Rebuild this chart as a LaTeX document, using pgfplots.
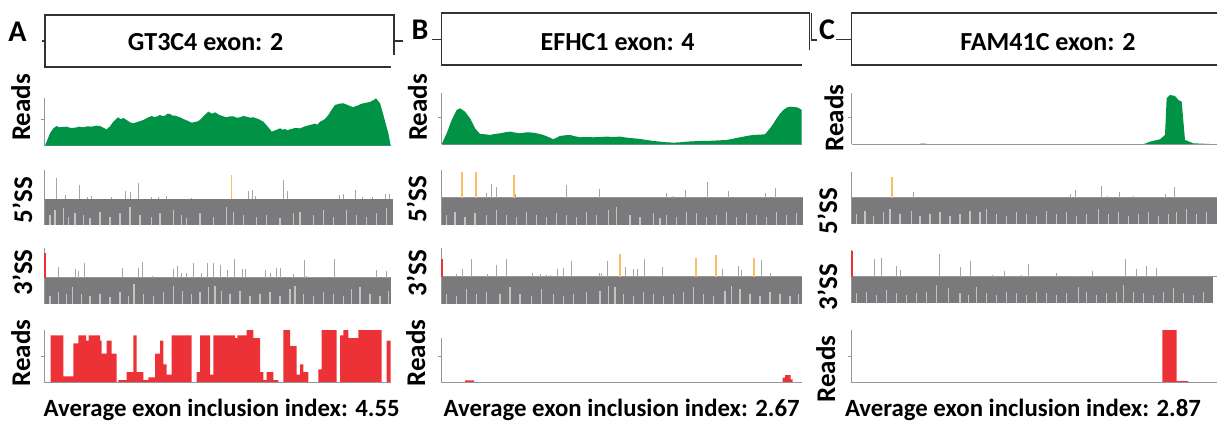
\documentclass[border=0pt]{standalone}
\usepackage{pgfplots}
\pgfplotsset{compat=1.18}
\usepackage{fontspec}
\setmainfont{Carlito}
\definecolor{grn}{RGB}{0,146,69}
\definecolor{rd}{RGB}{237,50,55}
\definecolor{bandgray}{RGB}{122,122,125}
\definecolor{spk}{RGB}{165,165,165}
\definecolor{org}{RGB}{250,190,100}
\definecolor{streak}{RGB}{195,195,195}
\definecolor{axgray}{RGB}{150,150,150}
\definecolor{boxc}{RGB}{50,50,50}
\pgfplotsset{
  base/.style={scale only axis, anchor=north west, clip=false},
  reads/.style={base, axis lines=left, axis line style={draw=axgray, line width=0.5pt, -},
    xtick=\empty, ytick={80}, yticklabels={}, tick align=outside, major tick length=2pt,
    tick style={axgray, line width=0.4pt}, ymin=0},
  ss/.style={base, axis x line=middle, axis y line=left, axis line style={draw=axgray, line width=0.5pt, -},
    xtick=\empty, ytick=\empty},
  spike/.style={ycomb, draw=spk, line width=0.5pt, mark=none},
  ospike/.style={ycomb, draw=org, line width=0.8pt, mark=none},
  rspike/.style={ycomb, draw=rd, line width=0.9pt, mark=none},
  strk/.style={quiver={u=0,v=\thisrow{v}}, -, draw=streak, line width=0.6pt},
}
\begin{document}
\begin{tikzpicture}
\useasboundingbox (0,0) rectangle (608.5pt,-211.5pt);
% ---------- boxes and letters
\begin{scope}[line width=0.7pt, draw=boxc]
\draw (197pt,-27.5pt) -- (197pt,-7.5pt) -- (22.5pt,-7.5pt) -- (22.5pt,-33.5pt) -- (195.5pt,-33.5pt);
\draw (21pt,-20.5pt) -- (22.5pt,-20.5pt);
\draw (197pt,-20.5pt) -- (201.5pt,-20.5pt);
\draw (404.6pt,-25pt) -- (404.6pt,-6.5pt) -- (220.85pt,-6.5pt) -- (220.85pt,-32.5pt) -- (400.85pt,-32.5pt);
\draw (216pt,-19.7pt) -- (220.85pt,-19.7pt);
\draw (405.8pt,-6.5pt) -- (405.8pt,-20pt) -- (408.3pt,-20pt);
\draw (609pt,-6.5pt) -- (425.85pt,-6.5pt) -- (425.85pt,-32.5pt) -- (609pt,-32.5pt);
\draw (418pt,-19.7pt) -- (425.85pt,-19.7pt);
\end{scope}
\begin{scope}[every node/.style={font=\fontsize{15}{17}\selectfont\bfseries}]
\node at (8.75pt,-15.85pt) {A};
\node at (210pt,-15pt) {B};
\node at (413.5pt,-15pt) {C};
\end{scope}
\begin{scope}[every node/.style={font=\fontsize{13}{15}\selectfont\bfseries}]
\node at (102.85pt,-21.25pt) {GT3C4 exon: 2};
\node at (308.85pt,-21pt) {EFHC1 exon: 4};
\node at (524pt,-21pt) {FAM41C exon: 2};
\end{scope}
\begin{scope}[every node/.style={font=\fontsize{13.5}{15}\selectfont\bfseries, rotate=90}]
\node at (10.35pt,-53.75pt) {Reads};
\node at (11.25pt,-100pt) {5'SS};
\node at (11.25pt,-136.25pt) {3'SS};
\node at (10.35pt,-176.5pt) {Reads};
\node at (208.75pt,-53.75pt) {Reads};
\node at (208.35pt,-99.5pt) {5'SS};
\node at (208.35pt,-136.5pt) {3'SS};
\node at (207.9pt,-176.5pt) {Reads};
\node at (417pt,-59pt) {Reads};
\node at (413.75pt,-105.5pt) {5'SS};
\node at (413.75pt,-143.5pt) {3'SS};
\node at (412.9pt,-184.5pt) {Reads};
\end{scope}
\begin{scope}[every node/.style={font=\fontsize{12.4}{14}\selectfont\bfseries, anchor=base}]
\node at (110.85pt,-208.35pt) {Average exon inclusion index: 4.55};
\node at (310.85pt,-208.35pt) {Average exon inclusion index: 2.67};
\node at (511.5pt,-208.35pt) {Average exon inclusion index: 2.87};
\end{scope}

% ================= PANEL A =================
\begin{axis}[reads, at={(22.5pt,-49.15pt)}, width=172.85pt, height=23.7pt, xmin=135, xmax=1172, ymax=142]
\addplot[fill=grn, draw=none] coordinates {(135,0)(150,37)(160,52)(170,59)(178,55)(185,56)(200,57)(212,53)(225,54)(238,57)(250,55)(262,58)(275,57)(288,60)(300,59)(310,54)(320,49)(330,58)(340,72)(348,80)(355,85)(362,79)(370,83)(380,77)(390,70)(400,67)(415,72)(430,77)(443,84)(455,89)(462,86)(470,87)(480,92)(488,88)(495,90)(503,96)(510,95)(518,90)(525,90)(540,85)(550,80)(560,76)(575,69)(590,72)(600,77)(612,90)(625,102)(632,98)(637,96)(645,100)(650,97)(658,92)(665,90)(672,87)(680,85)(690,88)(700,88)(710,84)(720,85)(730,89)(740,87)(750,84)(760,85)(775,80)(790,72)(805,55)(815,42)(828,47)(840,52)(848,48)(855,50)(862,46)(870,49)(885,53)(900,52)(915,58)(930,62)(945,66)(952,63)(960,72)(968,76)(975,80)(985,92)(995,108)(1005,122)(1012,124)(1018,126)(1030,127)(1038,124)(1045,121)(1060,115)(1068,119)(1075,121)(1083,125)(1090,127)(1100,129)(1110,131)(1120,136)(1128,142)(1135,133)(1140,127)(1150,92)(1158,62)(1165,37)(1172,0)};
\end{axis}

\begin{axis}[ss, at={(22.5pt,-85pt)}, width=173.85pt, height=27.5pt, xmin=135, xmax=1178, ymin=-78, ymax=87]
\addplot[fill=bandgray, draw=none] coordinates {(135,0)(1178,0)(1178,-78)(135,-78)};
\addplot[strk] table[x=x, y expr=-78, row sep=\\] {x v\\150 30\\165 45\\190 50\\205 25\\225 35\\250 30\\270 20\\300 40\\330 25\\360 35\\390 55\\420 30\\455 25\\480 35\\520 45\\545 30\\560 20\\600 35\\640 25\\680 55\\700 40\\730 30\\770 25\\800 30\\840 20\\880 35\\900 40\\940 30\\970 45\\1000 25\\1040 45\\1070 30\\1100 25\\1130 35\\1160 50\\};
\addplot[spike] coordinates {(170,62)(195,12)(237,42)(262,7)(275,9)(335,7)(377,23)(390,21)(415,49)(455,5)(475,7)(500,9)(575,4)(745,23)(756,27)(765,9)(851,57)(862,24)(1018,12)(1030,15)(1066,27)(1088,7)(1117,7)(1155,15)(1168,15)};
\addplot[ospike] coordinates {(695,72)};
\end{axis}

\begin{axis}[ss, at={(22.5pt,-124.15pt)}, width=172.85pt, height=27.85pt, xmin=135, xmax=1172, ymin=-79, ymax=88]
\addplot[fill=bandgray, draw=none] coordinates {(135,0)(1172,0)(1172,-79)(135,-79)};
\addplot[strk] table[x=x, y expr=-79, row sep=\\] {x v\\150 25\\175 35\\200 30\\218 50\\245 30\\270 25\\300 30\\330 20\\360 35\\385 25\\402 60\\430 30\\460 25\\490 35\\520 55\\548 40\\575 30\\600 35\\625 50\\645 55\\665 40\\690 30\\720 40\\750 25\\780 30\\810 35\\840 25\\870 45\\885 55\\910 30\\940 25\\970 35\\1000 30\\1030 25\\1055 45\\1080 50\\1110 30\\1140 25\\1165 40\\};
\addplot[spike] coordinates {(176,31)(227,25)(235,21)(253,43)(368,28)(415,28)(428,47)(458,5)(520,25)(532,35)(545,15)(560,15)(580,43)(605,15)(622,43)(640,43)(660,38)(682,23)(703,55)(728,25)(737,25)(795,23)(812,13)(828,28)(842,28)(880,11)(912,53)(920,5)(1003,55)(1128,23)(1160,21)};
\addplot[rspike] coordinates {(136,73)};
\end{axis}

\begin{axis}[reads, axis on top, at={(22.5pt,-165pt)}, width=172.85pt, height=26.35pt, xmin=135, xmax=1172, ymax=158]
\addplot[const plot, fill=rd, draw=none] coordinates {(135,0)(152,142)(190,19)(220,118)(235,142)(258,126)(266,142)(300,126)(305,87)(320,126)(335,87)(350,0)(355,8)(380,32)(400,142)(410,32)(430,8)(445,16)(465,87)(480,126)(490,55)(500,24)(515,142)(575,0)(590,32)(600,142)(630,24)(640,142)(705,134)(712,142)(740,158)(760,134)(780,32)(790,8)(800,32)(820,8)(835,0)(850,158)(870,110)(890,24)(900,55)(910,32)(925,0)(955,40)(965,158)(1010,0)(1020,142)(1030,158)(1045,134)(1075,158)(1145,0)(1160,126)(1172,126)(1172,0)};
\end{axis}

% ================= PANEL B =================
\begin{axis}[reads, at={(220.85pt,-46.65pt)}, width=180pt, height=25.5pt, xmin=125, xmax=1205, ymax=153]
\addplot[fill=grn, draw=none] coordinates {(125,0)(140,33)(155,73)(170,103)(180,108)(195,98)(210,78)(225,48)(240,31)(255,30)(270,28)(285,31)(300,33)(315,36)(330,38)(345,35)(360,33)(380,36)(400,35)(415,32)(430,28)(445,22)(460,15)(470,20)(480,25)(495,27)(510,28)(525,24)(540,21)(560,22)(580,21)(600,22)(620,23)(640,22)(660,23)(680,20)(700,18)(720,16)(740,13)(760,10)(780,8)(800,6)(820,5)(840,6)(860,8)(880,9)(900,10)(920,10)(940,11)(960,12)(980,13)(1000,17)(1020,21)(1040,25)(1060,28)(1080,29)(1095,30)(1110,48)(1120,62)(1130,78)(1140,92)(1150,103)(1160,110)(1170,113)(1180,112)(1190,111)(1198,108)(1205,103)(1205,0)};
\end{axis}

\begin{axis}[ss, at={(220.85pt,-85pt)}, width=180.8pt, height=27.5pt, xmin=125, xmax=1210, ymin=-82, ymax=83]
\addplot[fill=bandgray, draw=none] coordinates {(125,0)(1210,0)(1210,-82)(125,-82)};
\addplot[strk] table[x=x, y expr=-82, row sep=\\] {x v\\140 30\\165 40\\195 25\\225 35\\260 30\\290 45\\320 30\\350 25\\380 40\\410 30\\440 25\\470 35\\500 30\\530 25\\560 40\\590 30\\625 45\\650 55\\690 30\\720 25\\760 35\\778 20\\782 20\\800 30\\830 25\\860 40\\890 35\\920 25\\950 30\\980 40\\1010 25\\1040 35\\1070 30\\1100 25\\1130 40\\1160 30\\1190 35\\};
\addplot[spike] coordinates {(188,35)(258,13)(273,41)(288,33)(345,10)(500,38)(598,25)(800,13)(822,5)(857,23)(922,46)(985,21)(1098,13)(1127,30)};
\addplot[ospike] coordinates {(185,76)(228,78)(342,68)};
\end{axis}

\begin{axis}[ss, at={(220.85pt,-124.15pt)}, width=180pt, height=27.85pt, xmin=125, xmax=1205, ymin=-82, ymax=85]
\addplot[fill=bandgray, draw=none] coordinates {(125,0)(1205,0)(1205,-82)(125,-82)};
\addplot[strk] table[x=x, y expr=-82, row sep=\\] {x v\\140 30\\170 25\\200 45\\230 30\\260 35\\300 30\\330 50\\360 30\\395 25\\425 45\\460 30\\490 25\\520 30\\560 35\\600 40\\625 55\\645 50\\670 30\\700 25\\730 35\\760 30\\790 25\\820 30\\850 35\\880 50\\910 30\\940 25\\975 40\\995 55\\1020 45\\1050 30\\1080 25\\1110 35\\1140 30\\1170 25\\1195 30\\};
\addplot[spike] coordinates {(168,8)(188,22)(215,52)(262,8)(290,35)(320,52)(397,10)(420,8)(440,5)(452,5)(473,22)(490,25)(513,48)(598,10)(605,12)(622,47)(675,30)(700,22)(712,22)(733,52)(787,30)(967,23)(995,2)(1015,32)(1025,20)(1085,50)(1110,12)};
\addplot[ospike] coordinates {(660,67)(888,55)(948,64)(1062,55)};
\addplot[rspike] coordinates {(126,52)};
\end{axis}

\begin{axis}[reads, axis on top, at={(220.85pt,-168.85pt)}, width=180pt, height=22.5pt, xmin=125, xmax=1205, ymax=135]
\addplot[const plot, fill=rd, draw=none] coordinates {(195,0)(195,7)(222,0)};
\addplot[const plot, fill=rd, draw=none] coordinates {(1148,0)(1148,15)(1155,23)(1172,10)(1178,0)};
\end{axis}

% ================= PANEL C =================
\begin{axis}[reads, axis on top, at={(425.85pt,-46.65pt)}, width=182.65pt, height=25.5pt, xmin=155, xmax=1251, ymax=153]
\addplot[fill=grn, draw=none] coordinates {(355,0)(362,2)(375,2)(382,0)};
\addplot[fill=grn, draw=none] coordinates {(1030,0)(1050,8)(1080,15)(1095,28)(1100,138)(1110,148)(1125,145)(1135,133)(1145,128)(1155,13)(1180,3)(1250,0)};
\end{axis}

\begin{axis}[ss, at={(425.85pt,-85.85pt)}, width=182.65pt, height=26.15pt, xmin=155, xmax=1251, ymin=-79, ymax=78]
\addplot[fill=bandgray, draw=none] coordinates {(155,0)(1251,0)(1251,-79)(155,-79)};
\addplot[strk] table[x=x, y expr=-79, row sep=\\] {x v\\170 30\\195 40\\220 25\\250 35\\270 45\\300 30\\335 40\\360 25\\390 30\\420 35\\450 25\\480 30\\510 40\\540 35\\560 45\\590 30\\620 25\\650 35\\680 30\\710 25\\740 40\\770 30\\800 35\\830 25\\860 30\\895 45\\925 30\\955 35\\985 25\\1015 30\\1045 35\\1075 25\\1105 30\\1130 35\\1160 45\\1190 30\\1220 35\\};
\addplot[spike] coordinates {(340,18)(810,11)(825,23)(905,35)(922,5)(958,17)(1000,5)(1097,10)(1122,33)};
\addplot[ospike] coordinates {(275,61)};
\end{axis}

\begin{axis}[ss, at={(425.85pt,-125pt)}, width=182.65pt, height=26.65pt, xmin=155, xmax=1251, ymin=-80, ymax=80]
\addplot[fill=bandgray, draw=none] coordinates {(155,0)(1240,0)(1240,-80)(155,-80)};
\addplot[strk] table[x=x, y expr=-80, row sep=\\] {x v\\170 30\\200 35\\230 25\\260 40\\290 30\\320 25\\350 30\\380 35\\410 55\\445 45\\480 30\\505 25\\530 50\\560 30\\590 25\\620 35\\650 30\\680 25\\710 35\\740 30\\770 25\\800 30\\835 50\\860 35\\890 25\\920 30\\950 35\\970 55\\1000 35\\1030 30\\1060 25\\1090 35\\1120 45\\1150 30\\1180 25\\1210 35\\};
\addplot[spike] coordinates {(222,52)(245,55)(290,32)(300,20)(418,68)(482,28)(510,48)(578,5)(612,18)(663,5)(685,38)(770,12)(835,2)(877,18)(977,54)(1010,24)(1040,32)(1070,26)};
\addplot[rspike] coordinates {(156,78)};
\end{axis}

\begin{axis}[reads, axis on top, at={(425.85pt,-165pt)}, width=182.65pt, height=26.35pt, xmin=155, xmax=1251, ymax=158]
\addplot[const plot, fill=rd, draw=none] coordinates {(1087,0)(1087,158)(1130,5)(1165,0)};
\end{axis}
\end{tikzpicture}
\end{document}
